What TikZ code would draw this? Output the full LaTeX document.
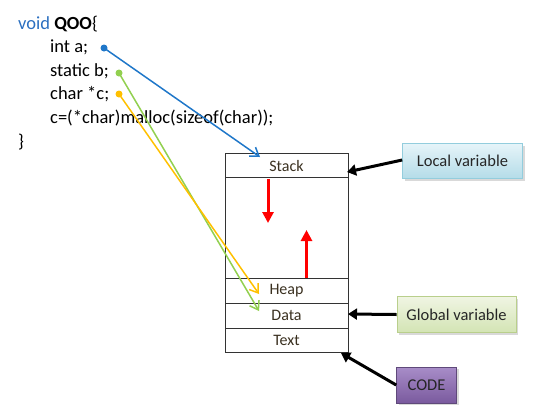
\documentclass[tikz,border=0pt]{standalone}
\usepackage{fontspec}
\setmainfont{Carlito}
\usetikzlibrary{arrows.meta,shadows}
\definecolor{cblue}{HTML}{1F77C9}
\definecolor{cgreen}{HTML}{92D050}
\definecolor{cyellow}{HTML}{FFC000}
\definecolor{kwblue}{HTML}{2B6FC0}
\definecolor{labtext}{HTML}{3A3020}
\definecolor{locTop}{HTML}{E6F4F9}
\definecolor{locBot}{HTML}{B4DCE8}
\definecolor{locBd}{HTML}{93CDDD}
\definecolor{gloTop}{HTML}{F0F5E3}
\definecolor{gloBot}{HTML}{D3E4B4}
\definecolor{gloBd}{HTML}{B9CF8C}
\definecolor{codTop}{HTML}{A88DC8}
\definecolor{codBot}{HTML}{7A5A9E}
\definecolor{codBd}{HTML}{5F497A}
\begin{document}
\begin{tikzpicture}[x=1pt,y=-1pt,
  codeline/.style={anchor=west,inner sep=0pt,font=\fontsize{18.5}{20}\selectfont},
  memseg/.style={draw=black!80,line width=0.9pt,outer sep=0pt,minimum width=123pt,inner sep=0pt,font=\fontsize{16}{18}\selectfont,text=labtext},
  calloutbox/.style={draw=#1,line width=0.6pt,inner sep=0pt,font=\fontsize{16.5}{18}\selectfont,text=black!85,drop shadow={shadow xshift=2pt,shadow yshift=-2pt,opacity=0.3}},
  vardot/.style={circle,fill=#1,inner sep=0pt,minimum size=7pt},
  ptrarrow/.style={draw=#1,line width=1.5pt,-{Straight Barb[length=8pt,width=11pt,line width=1.5pt]}},
  growarrow/.style={draw=red,line width=3pt,-{Triangle[length=11pt,width=11pt]}},
  blkarrow/.style={draw=black,line width=3pt,-{Triangle[length=9pt,width=11pt]}}]
\useasboundingbox (0,0) rectangle (540,418);
% code
\node[codeline] (l1) at (18,24) {\textcolor{kwblue}{void} \textbf{QOO}\{};
\node[codeline] (l2) at (50,47) {int a;};
\node[codeline] (l3) at (50,71) {static b;};
\node[codeline] (l4) at (50,94) {char *c;};
\node[codeline] (l5) at (50,118) {c=(*char)malloc(sizeof(char));};
\node[codeline] (l6) at (18,142) {\}};
% memory
\node[memseg,minimum height=24.5pt] (stack) at (286.5,165.5) {Stack};
\node[memseg,minimum height=100.5pt,anchor=north] (gap) at (stack.south) {};
\node[memseg,minimum height=25pt,anchor=north] (heap) at (gap.south) {Heap};
\node[memseg,minimum height=25pt,anchor=north] (data) at (heap.south) {Data};
\node[memseg,minimum height=24pt,anchor=north] (textseg) at (data.south) {Text};
% red growth arrows
\coordinate (d1) at (268,178.5);
\coordinate (d2) at (268,223);
\coordinate (u1) at (306.5,278);
\coordinate (u2) at (306.5,230);
\draw[growarrow] (d1) -- (d2);
\draw[growarrow] (u1) -- (u2);
% callouts
\node[calloutbox=locBd,top color=locTop,bottom color=locBot,minimum width=120pt,minimum height=35pt] (local) at (462.5,161) {Local variable};
\node[calloutbox=gloBd,top color=gloTop,bottom color=gloBot,minimum width=119pt,minimum height=36pt] (global) at (456.5,314.5) {Global variable};
\node[calloutbox=codBd,top color=codTop,bottom color=codBot,minimum width=60pt,minimum height=36pt] (codebox) at (426.5,385) {CODE};
\coordinate (sa) at (347,172);
\coordinate (da) at (348,314);
\coordinate (ta) at (341,353);
\draw[blkarrow] (local.west) ++(0,-1) -- (sa);
\draw[blkarrow] (global.west) -- (da);
\draw[blkarrow] (codebox.west) -- (ta);
% pointers
\node[vardot=cblue] (pa) at (104,48) {};
\node[vardot=cgreen] (pb) at (119,73) {};
\node[vardot=cyellow] (pc) at (119,94) {};
\coordinate (ta1) at (260,157);
\coordinate (tb1) at (259,311);
\coordinate (tc1) at (259,294);
\draw[ptrarrow=cblue] (pa.center) -- (ta1);
\draw[ptrarrow=cgreen] (pb.center) -- (tb1);
\draw[ptrarrow=cyellow] (pc.center) -- (tc1);
\end{tikzpicture}
\end{document}
